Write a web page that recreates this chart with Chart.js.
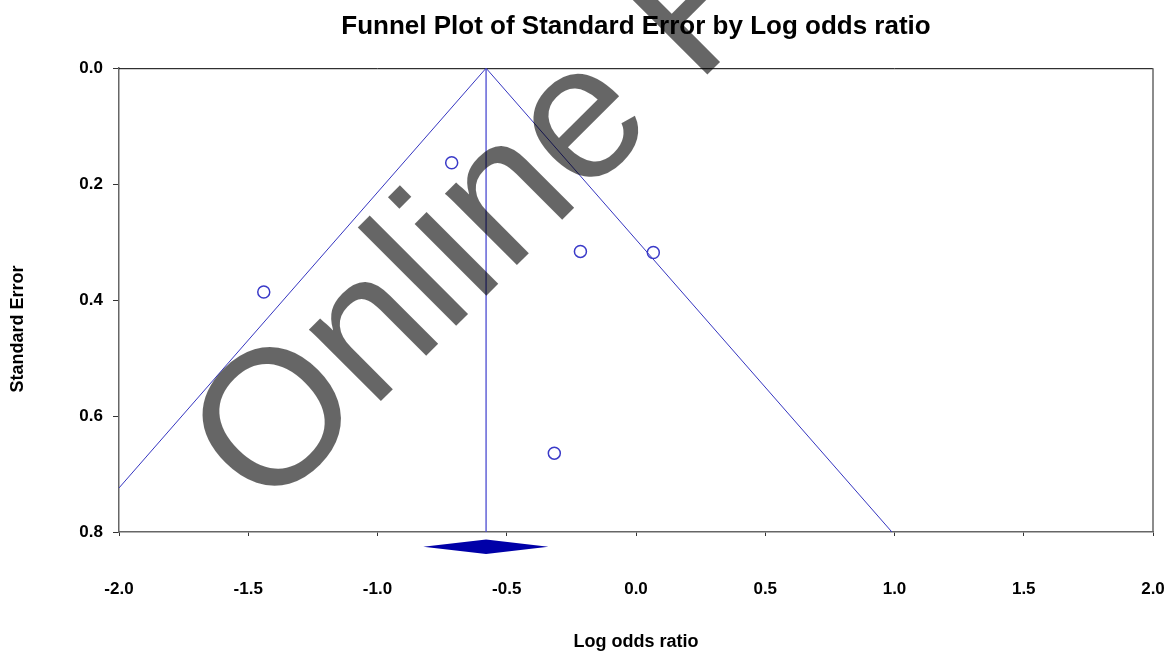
<!DOCTYPE html>
<html>
<head>
<meta charset="utf-8">
<script src="https://cdn.jsdelivr.net/npm/chart.js@4/dist/chart.umd.min.js"></script>
<style>
    html, body { margin: 0; padding: 0; background: #fff; }
    #wrap { width: 1168px; height: 654px; }
</style>
</head>
<body>
<div id="wrap"><canvas id="chart" width="1168" height="654"></canvas></div>
<script>
// Study points
const studyLogOdds = [-1.44, -0.713, -0.215, 0.067, -0.316];
const studySE = [0.386, 0.163, 0.316, 0.318, 0.664];
// Funnel (pseudo 95% limits) and the summary effect line
const funnelX = [-2.0, -0.58, 0.99];
const funnelY = [0.724, 0.0, 0.8];
const meanX = [-0.58, -0.58];
const meanY = [0.0, 0.8];
// Summary diamond, just under the x axis
const diamondX = [-0.823, -0.58, -0.339, -0.58];
const diamondY = [0.8255, 0.813, 0.8255, 0.838];
// Axis ticks
const xTicks = [-2.0, -1.5, -1.0, -0.5, 0.0, 0.5, 1.0, 1.5, 2.0];
const yTicks = [0.0, 0.2, 0.4, 0.6, 0.8];

document.addEventListener("DOMContentLoaded", function() {
    Chart.defaults.font.family = "'Liberation Sans', Arial, sans-serif";
    Chart.defaults.color = "#000";

    const toPoints = (xs, ys) => xs.map((x, i) => ({ x: x, y: ys[i] }));

    // frame lines, the diamond, axis titles and the watermark
    const extras = {
        id: "extras",
        beforeDatasetsDraw(chart) {
            const { ctx, chartArea: a } = chart;
            ctx.save();
            ctx.strokeStyle = "#000";
            ctx.lineWidth = 1;
            ctx.beginPath();
            ctx.moveTo(a.left, a.top + 0.5);
            ctx.lineTo(a.right, a.top + 0.5);
            ctx.stroke();
            ctx.strokeStyle = "#666";
            ctx.lineWidth = 1.5;
            ctx.beginPath();
            ctx.moveTo(a.right, a.top);
            ctx.lineTo(a.right, a.bottom);
            ctx.stroke();
            ctx.restore();
        },
        afterDatasetsDraw(chart) {
            const { ctx, scales } = chart;
            ctx.save();
            ctx.fillStyle = "#0000a8";
            ctx.beginPath();
            diamondX.forEach((x, i) => {
                const px = scales.x.getPixelForValue(x);
                const py = scales.y.getPixelForValue(diamondY[i]);
                if (i === 0) ctx.moveTo(px, py); else ctx.lineTo(px, py);
            });
            ctx.closePath();
            ctx.fill();
            ctx.restore();
        },
        afterDraw(chart) {
            const { ctx, chartArea: a } = chart;
            ctx.save();
            ctx.fillStyle = "#000";
            ctx.font = "bold 18px 'Liberation Sans', Arial, sans-serif";
            ctx.textAlign = "center";
            ctx.textBaseline = "middle";
            ctx.fillText("Log odds ratio", (a.left + a.right) / 2, 642);
            ctx.translate(18, 329);
            ctx.rotate(-Math.PI / 2);
            ctx.fillText("Standard Error", 0, 0);
            ctx.restore();

            // watermark
            ctx.save();
            ctx.fillStyle = "rgba(0,0,0,0.6)";
            ctx.font = "192px 'Liberation Sans', Arial, sans-serif";
            ctx.textAlign = "left";
            ctx.textBaseline = "alphabetic";
            ctx.translate(266, 516);
            ctx.rotate(-Math.PI / 4);
            ctx.fillText("Online First", 0, 0);
            ctx.restore();
        }
    };

    const chart = new Chart(document.getElementById("chart").getContext("2d"), {
        type: "scatter",
        data: {
            datasets: [
                {
                    label: "Studies",
                    data: toPoints(studyLogOdds, studySE),
                    pointStyle: "circle",
                    pointRadius: 6,
                    pointBorderWidth: 1.5,
                    pointBorderColor: "#3a3ac8",
                    pointBackgroundColor: "rgba(0,0,0,0)",
                    showLine: false
                },
                {
                    label: "Funnel",
                    data: toPoints(funnelX, funnelY),
                    showLine: true,
                    borderColor: "#3535c0",
                    borderWidth: 1,
                    pointRadius: 0,
                    fill: false
                },
                {
                    label: "Mean",
                    data: toPoints(meanX, meanY),
                    showLine: true,
                    borderColor: "#4a4ad0",
                    borderWidth: 1.3,
                    pointRadius: 0,
                    fill: false
                }
            ]
        },
        options: {
            responsive: false,
            animation: false,
            layout: { padding: { left: 0, right: 15, top: 0, bottom: 0 } },
            plugins: {
                legend: { display: false },
                tooltip: { enabled: false },
                title: {
                    display: true,
                    text: "Funnel Plot of Standard Error by Log odds ratio",
                    fullSize: false,
                    font: { size: 26, weight: "bold" },
                    color: "#000",
                    padding: { top: 11, bottom: 26 }
                }
            },
            scales: {
                x: {
                    type: "linear",
                    min: -2,
                    max: 2,
                    afterBuildTicks: (s) => { s.ticks = xTicks.map(v => ({ value: v })); },
                    afterFit: (s) => { s.height = 122; s.paddingLeft = 0; s.paddingRight = 0; },
                    ticks: {
                        font: { size: 17, weight: "bold" },
                        padding: 43,
                        callback: (v) => Number(v).toFixed(1)
                    },
                    grid: { drawOnChartArea: false, drawTicks: true, tickLength: 4, tickColor: "#333" },
                    border: { display: true, color: "#666", width: 1.5 }
                },
                y: {
                    type: "linear",
                    reverse: true,
                    min: 0,
                    max: 0.8,
                    afterBuildTicks: (s) => { s.ticks = yTicks.map(v => ({ value: v })); },
                    afterFit: (s) => { s.width = 119; s.paddingTop = 0; s.paddingBottom = 0; },
                    ticks: {
                        font: { size: 17, weight: "bold" },
                        padding: 10,
                        callback: (v) => Number(v).toFixed(1)
                    },
                    grid: { drawOnChartArea: false, drawTicks: true, tickLength: 6, tickColor: "#333" },
                    border: { display: true, color: "#666", width: 1.5 }
                }
            }
        },
        plugins: [extras]
    });
});
</script>
</body>
</html>
